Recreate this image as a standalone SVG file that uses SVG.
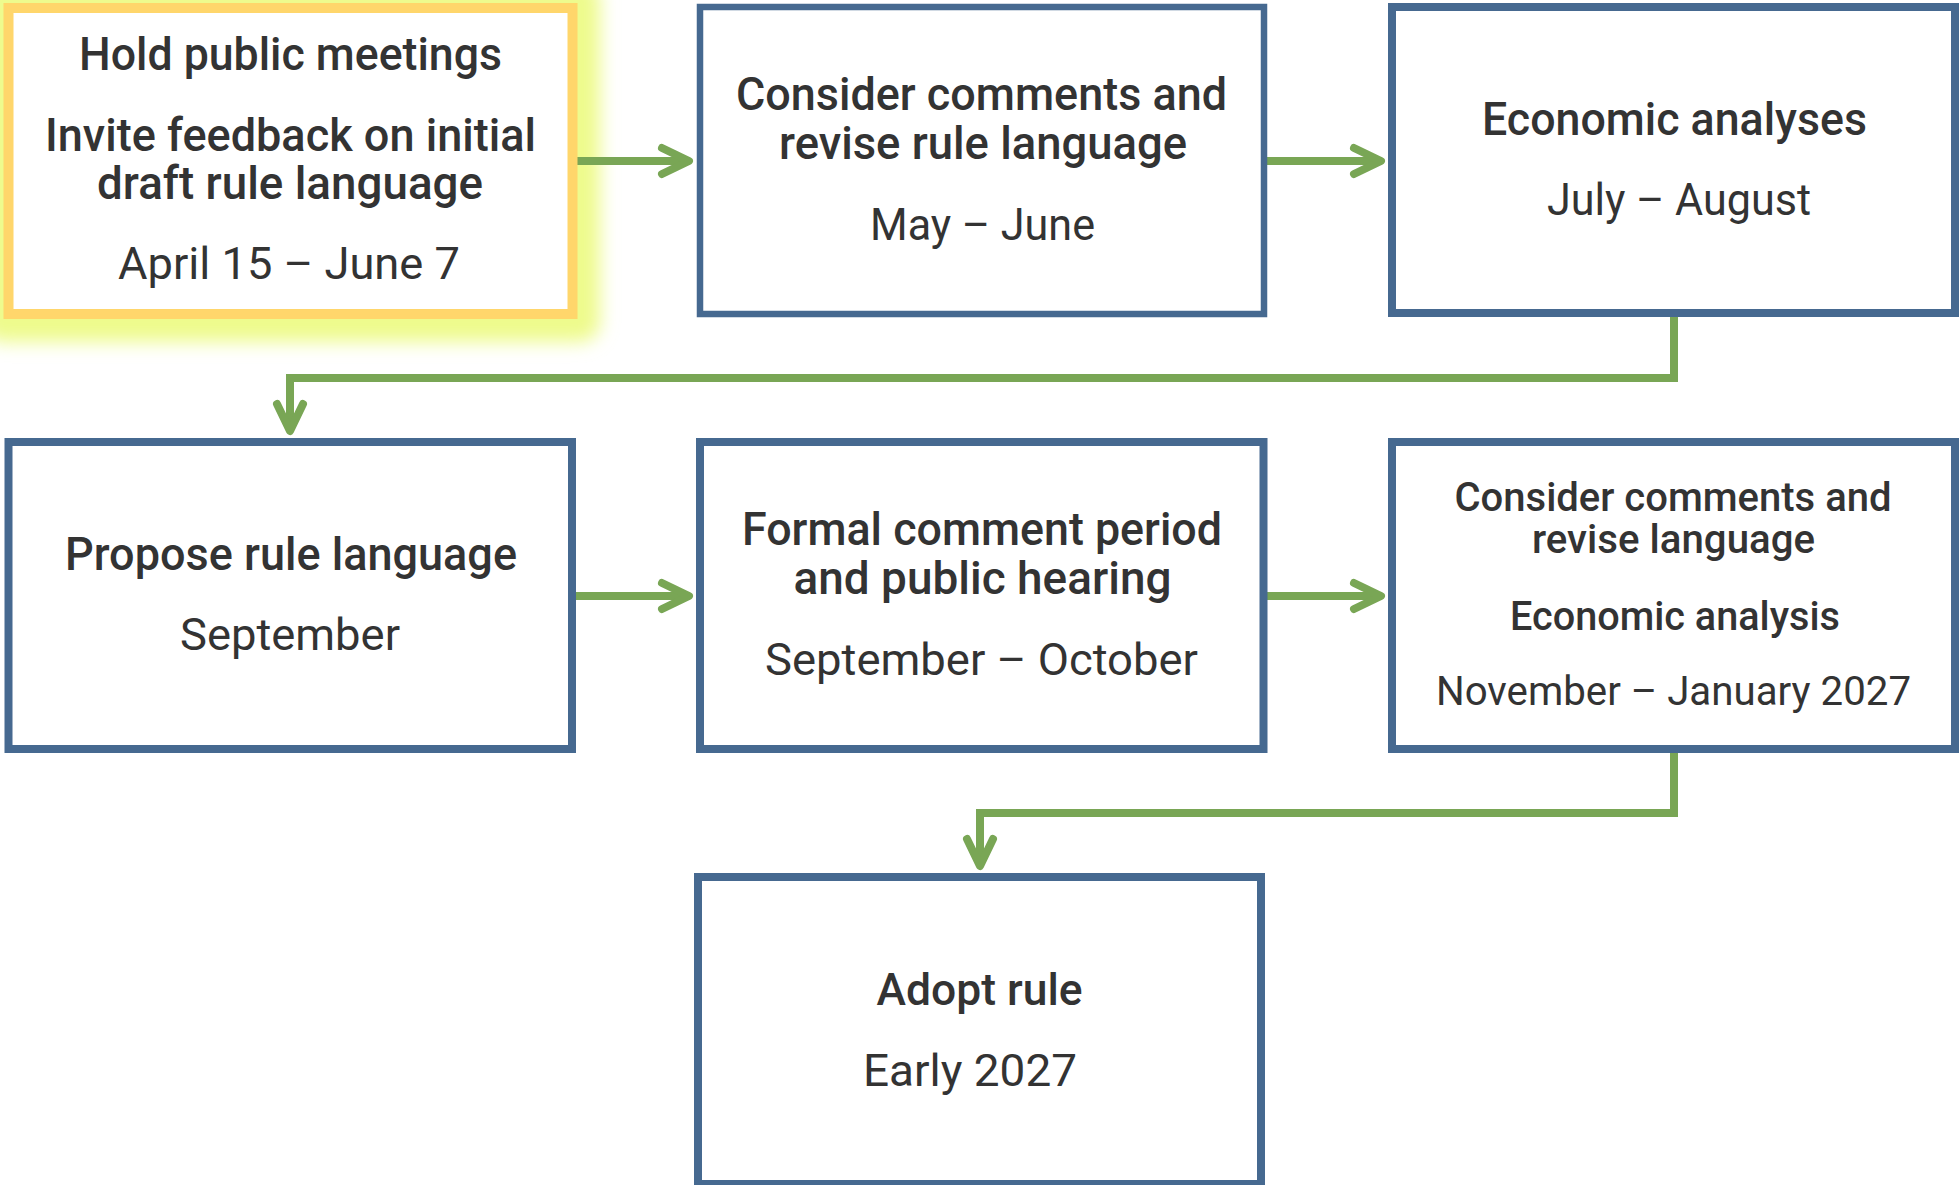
<svg xmlns="http://www.w3.org/2000/svg" width="1959" height="1185" viewBox="0 0 1959 1185">
  <style>
    .box { fill: #ffffff; stroke: #466990; stroke-width: 8; }
    .hl { fill: #ffffff; stroke: #ffd66b; stroke-width: 10; }
    .t { font-family: Roboto, "Liberation Sans", Arial, sans-serif; font-weight: 500; fill: #333333; text-anchor: middle; }
    .d { font-family: Roboto, "Liberation Sans", Arial, sans-serif; font-weight: 400; fill: #333333; text-anchor: middle; }
    .c { fill: none; stroke: #79a655; stroke-width: 8; stroke-linejoin: miter; }
  </style>
  <defs>
    <filter id="glow" x="-20%" y="-30%" width="140%" height="160%">
      <feGaussianBlur stdDeviation="9"/>
    </filter>
    <marker id="arr" viewBox="-40 -20 50 40" refX="0" refY="0" markerWidth="50" markerHeight="40" markerUnits="userSpaceOnUse" orient="auto" overflow="visible">
      <path d="M -27 -13 L 0 0 L -27 13" fill="none" stroke="#79a655" stroke-width="8" stroke-linecap="round" stroke-linejoin="round"/>
    </marker>
    <linearGradient id="g1" gradientUnits="userSpaceOnUse" x1="580" y1="0" x2="630" y2="0">
      <stop offset="0" stop-color="#a8c834"/>
      <stop offset="1" stop-color="#79a655"/>
    </linearGradient>
  </defs>

  <rect x="-18" y="-20" width="618" height="362" rx="20" fill="#eefb8c" filter="url(#glow)"/>

  <g id="connectors">
    <path class="c" d="M 577 161 H 689" stroke="url(#g1)" marker-end="url(#arr)"/>
    <path class="c" d="M 1267 161 H 1381" marker-end="url(#arr)"/>
    <path class="c" d="M 1674 317 V 378 H 290 V 431" marker-end="url(#arr)"/>
    <path class="c" d="M 576 596 H 689" marker-end="url(#arr)"/>
    <path class="c" d="M 1267 596 H 1381" marker-end="url(#arr)"/>
    <path class="c" d="M 1674 753 V 813 H 980 V 866" marker-end="url(#arr)"/>
  </g>

  <g id="node1">
    <rect class="hl" x="8.5" y="8" width="564" height="306"/>
    <text class="t" x="290.5" y="70" font-size="46" textLength="423" lengthAdjust="spacingAndGlyphs">Hold public meetings</text>
    <text class="t" x="290.5" y="151" font-size="46" textLength="491" lengthAdjust="spacingAndGlyphs">Invite feedback on initial</text>
    <text class="t" x="290" y="199" font-size="46" textLength="386" lengthAdjust="spacingAndGlyphs">draft rule language</text>
    <text class="d" x="289" y="279" font-size="44" textLength="342" lengthAdjust="spacingAndGlyphs">April 15 – June 7</text>
  </g>

  <g id="node2">
    <rect class="box" x="700" y="7" width="564" height="307" style="stroke-width:6.5"/>
    <text class="t" x="981.5" y="110" font-size="46" textLength="491" lengthAdjust="spacingAndGlyphs">Consider comments and</text>
    <text class="t" x="983" y="159" font-size="46" textLength="408" lengthAdjust="spacingAndGlyphs">revise rule language</text>
    <text class="d" x="982.5" y="240" font-size="45" textLength="225" lengthAdjust="spacingAndGlyphs">May – June</text>
  </g>

  <g id="node3">
    <rect class="box" x="1392" y="7" width="563" height="306"/>
    <text class="t" x="1674.5" y="135" font-size="46" textLength="385" lengthAdjust="spacingAndGlyphs">Economic analyses</text>
    <text class="d" x="1679" y="215" font-size="45" textLength="264" lengthAdjust="spacingAndGlyphs">July – August</text>
  </g>

  <g id="node4">
    <rect class="box" x="8.5" y="442" width="563.5" height="307"/>
    <text class="t" x="291" y="570" font-size="46" textLength="452" lengthAdjust="spacingAndGlyphs">Propose rule language</text>
    <text class="d" x="290" y="650" font-size="45" textLength="220" lengthAdjust="spacingAndGlyphs">September</text>
  </g>

  <g id="node5">
    <rect class="box" x="700" y="442" width="563.5" height="307"/>
    <text class="t" x="982" y="545" font-size="46" textLength="480" lengthAdjust="spacingAndGlyphs">Formal comment period</text>
    <text class="t" x="982.5" y="594" font-size="46" textLength="378" lengthAdjust="spacingAndGlyphs">and public hearing</text>
    <text class="d" x="981.5" y="675" font-size="44" textLength="433" lengthAdjust="spacingAndGlyphs">September – October</text>
  </g>

  <g id="node6">
    <rect class="box" x="1392" y="442" width="563" height="307"/>
    <text class="t" x="1673" y="511" font-size="40" textLength="437" lengthAdjust="spacingAndGlyphs">Consider comments and</text>
    <text class="t" x="1673.5" y="553" font-size="40" textLength="283" lengthAdjust="spacingAndGlyphs">revise language</text>
    <text class="t" x="1675" y="630" font-size="40" textLength="330" lengthAdjust="spacingAndGlyphs">Economic analysis</text>
    <text class="d" x="1673.5" y="705" font-size="40" textLength="475" lengthAdjust="spacingAndGlyphs">November – January 2027</text>
  </g>

  <g id="node7">
    <rect class="box" x="698" y="877" width="563" height="307"/>
    <text class="t" x="979.5" y="1005" font-size="45" textLength="206" lengthAdjust="spacingAndGlyphs">Adopt rule</text>
    <text class="d" x="970" y="1086" font-size="45" textLength="214" lengthAdjust="spacingAndGlyphs">Early 2027</text>
  </g>
</svg>
